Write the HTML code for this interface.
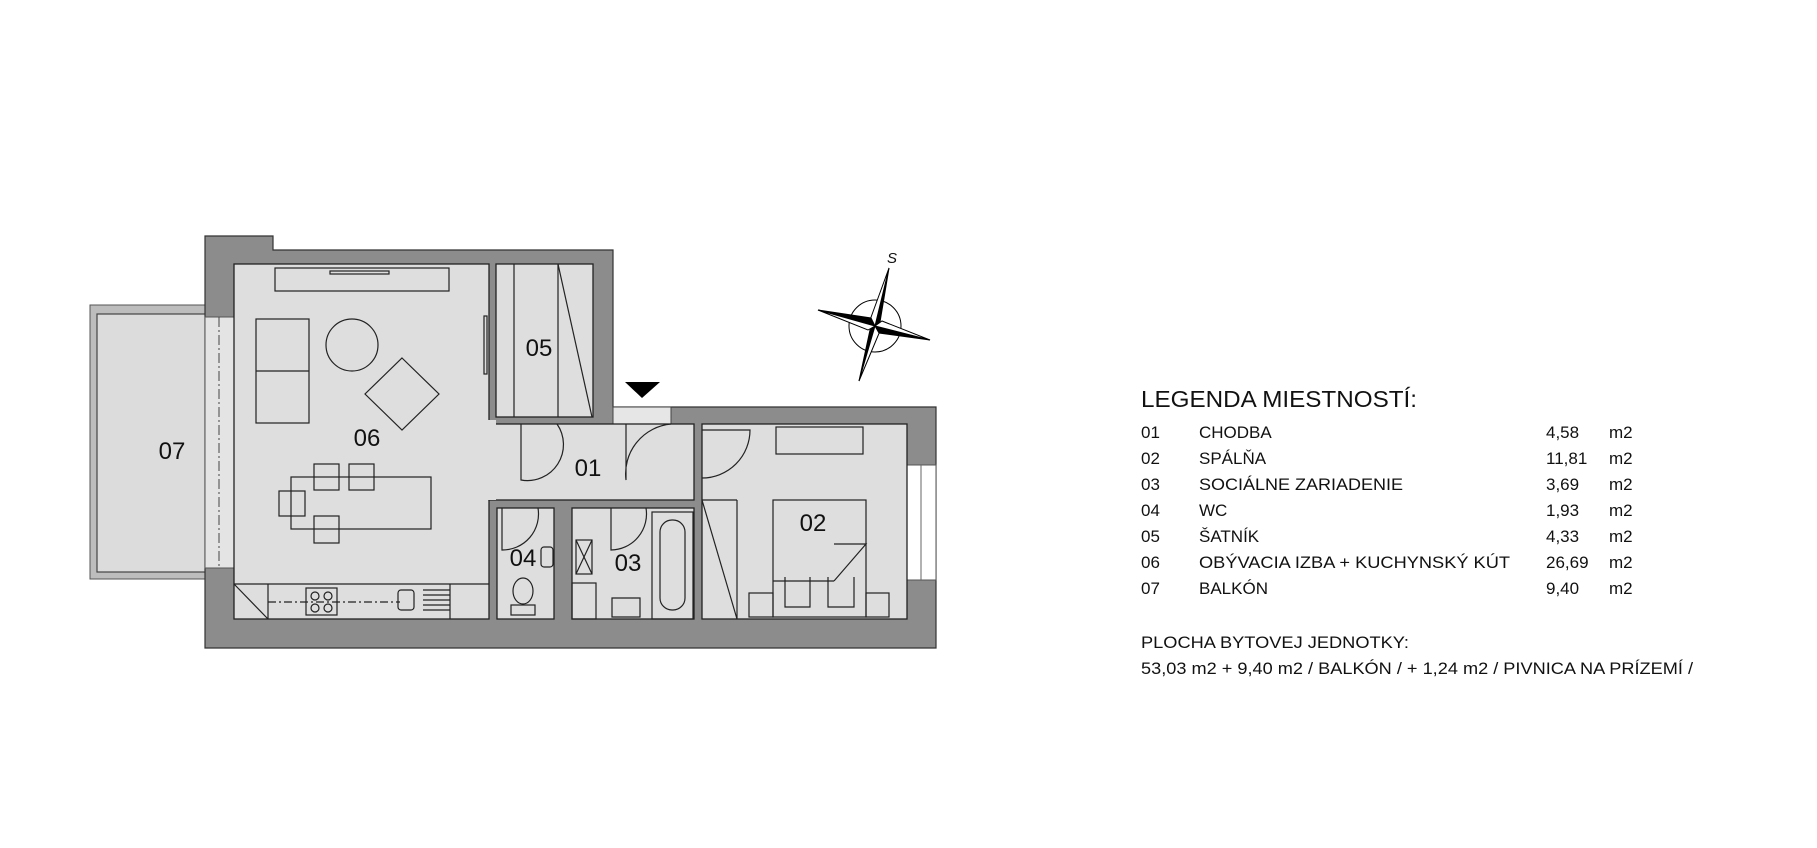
<!DOCTYPE html>
<html><head><meta charset="utf-8"><style>
html,body{margin:0;padding:0;background:#fff;}
svg{display:block;}
text{font-family:"Liberation Sans",sans-serif;fill:#111;}
</style></head><body>
<svg width="1817" height="848" viewBox="0 0 1817 848" xmlns="http://www.w3.org/2000/svg">
<rect width="1817" height="848" fill="#fff"/>
<!-- balcony -->
<rect x="90" y="305" width="117" height="274" fill="#bdbdbd" stroke="#555" stroke-width="1"/>
<rect x="97" y="314" width="112" height="258" fill="#dcdcdc" stroke="#444" stroke-width="1.2"/>
<!-- outer walls -->
<path d="M205,236 H273 V250 H613 V407 H671 V407 H936 V648 H205 Z" fill="#8c8c8c" stroke="#333" stroke-width="1.2"/>
<!-- entrance gap -->
<rect x="613" y="407" width="58" height="17" fill="#e6e6e6" stroke="#444" stroke-width="1"/>
<!-- window openings -->
<rect x="205" y="317" width="30" height="251" fill="#e4e4e4" stroke="#555" stroke-width="1"/>
<line x1="219" y1="317" x2="219" y2="568" stroke="#444" stroke-width="1" stroke-dasharray="10,3,2,3"/>
<rect x="907" y="465" width="29" height="115" fill="#fff" stroke="#555" stroke-width="1"/>
<line x1="921" y1="465" x2="921" y2="580" stroke="#666" stroke-width="1"/>
<!-- rooms -->
<g fill="#dedede" stroke="#222" stroke-width="1.3">
<rect x="234" y="264" width="255" height="355"/>
<rect x="496" y="264" width="97" height="153"/>
<rect x="489" y="424" width="205" height="76"/>
<rect x="497" y="508" width="57" height="111"/>
<rect x="572" y="508" width="122" height="111"/>
<rect x="702" y="424" width="205" height="195"/>
</g>
<rect x="486" y="420" width="10" height="80" fill="#dedede"/>
<rect x="234" y="264" width="255" height="355" fill="none" stroke="none"/>
<!-- 06 furniture -->
<g fill="none" stroke="#222" stroke-width="1.2">
<rect x="275" y="268" width="174" height="23"/>
<rect x="330" y="271" width="59" height="3"/>
<rect x="256" y="319" width="53" height="104"/><line x1="256" y1="371" x2="309" y2="371"/>
<circle cx="352" cy="345" r="26"/>
<path d="M402,358 L439,394 L402,430 L365,394 Z"/>
<rect x="291" y="477" width="140" height="52"/>
<rect x="314" y="464" width="25" height="26"/><rect x="349" y="464" width="25" height="26"/>
<rect x="279" y="491" width="26" height="25"/><rect x="314" y="516" width="25" height="27"/>
<rect x="484" y="316" width="3" height="58"/>
<line x1="234" y1="584" x2="489" y2="584"/>
<line x1="234" y1="584" x2="268" y2="619"/><line x1="268" y1="584" x2="268" y2="619"/>
<rect x="306" y="588" width="31" height="27"/>
<circle cx="315" cy="596" r="4"/><circle cx="328" cy="596" r="4"/><circle cx="315" cy="608" r="4"/><circle cx="328" cy="608" r="4"/>
<line x1="268" y1="602" x2="400" y2="602" stroke-dasharray="8,3,2,3"/>
<rect x="398" y="590" width="16" height="20" rx="3"/>
<line x1="423" y1="590" x2="450" y2="590"/><line x1="423" y1="595" x2="450" y2="595"/><line x1="423" y1="600" x2="450" y2="600"/><line x1="423" y1="605" x2="450" y2="605"/><line x1="423" y1="610" x2="450" y2="610"/>
<line x1="450" y1="584" x2="450" y2="619"/>
<!-- 05 -->
<line x1="514" y1="264" x2="514" y2="417"/><line x1="558" y1="264" x2="558" y2="417"/><line x1="558" y1="264" x2="592" y2="417"/>
<!-- doors -->
<path d="M521,424 V480 A36,36 0 0 0 557,424"/>
<path d="M626,424 V480 A50,50 0 0 1 671,424"/>
<path d="M702,430 H750 A48,48 0 0 1 702,478"/>
<path d="M502,508 V550 A36,36 0 0 0 538,508"/>
<path d="M611,508 V550 A36,36 0 0 0 646,508"/>
<!-- 03/04 fixtures -->
<rect x="576" y="540" width="16" height="34"/><line x1="576" y1="540" x2="592" y2="574"/><line x1="592" y1="540" x2="576" y2="574"/>
<rect x="572" y="583" width="24" height="36"/>
<path d="M612,598 H640 V617 H612 Z"/>
<rect x="652" y="512" width="41" height="107"/>
<rect x="660" y="520" width="25" height="90" rx="12"/>
<rect x="541" y="547" width="12" height="20" rx="3"/>
<ellipse cx="523" cy="591" rx="10" ry="13"/>
<rect x="511" y="605" width="24" height="10"/>
<!-- 02 -->
<rect x="776" y="427" width="87" height="27"/>
<line x1="737" y1="500" x2="737" y2="619"/><line x1="702" y1="500" x2="737" y2="500"/><line x1="702" y1="500" x2="737" y2="619"/>
<rect x="773" y="500" width="93" height="117"/>
<path d="M834,544 H866 L834,581"/><line x1="773" y1="581" x2="834" y2="581"/>
<rect x="749" y="593" width="24" height="24"/><rect x="866" y="593" width="23" height="24"/>
<path d="M785,577 V607 H810 V577"/><path d="M828,577 V607 H854 V577"/>
</g>
<!-- entrance triangle -->
<path d="M625,382 H660 L642,398 Z" fill="#000"/>
<!-- compass -->
<g stroke="#000" stroke-width="1">
<circle cx="875" cy="326" r="26" fill="none"/>
<path d="M889,268 L880,322 L875,326 Z" fill="#000"/>
<path d="M889,268 L875,326 L870,320 Z" fill="#fff"/>
<path d="M859,381 L870,330 L875,326 Z" fill="#000"/>
<path d="M859,381 L875,326 L880,331 Z" fill="#fff"/>
<path d="M818,310 L871,318 L875,326 Z" fill="#000"/>
<path d="M930,340 L879,333 L875,326 Z" fill="#000"/>
<path d="M818,310 L875,326 L868,330 Z" fill="#fff"/>
<path d="M930,340 L875,326 L882,321 Z" fill="#fff"/>
</g>
<text x="892" y="263" font-size="15" font-style="italic" text-anchor="middle">S</text>
<!-- room labels -->
<g font-size="24" text-anchor="middle">
<text x="367" y="446">06</text><text x="172" y="459">07</text><text x="539" y="356">05</text>
<text x="588" y="476">01</text><text x="813" y="531">02</text><text x="628" y="571">03</text><text x="523" y="566">04</text>
</g>
<!-- legend -->
<text x="1141" y="407" font-size="23" textLength="276" lengthAdjust="spacingAndGlyphs">LEGENDA MIESTNOSTÍ:</text>
<g font-size="17">
<text x="1141" y="438">01</text><text x="1199" y="438">CHODBA</text><text x="1546" y="438">4,58</text><text x="1609" y="438">m2</text>
<text x="1141" y="464">02</text><text x="1199" y="464">SPÁLŇA</text><text x="1546" y="464">11,81</text><text x="1609" y="464">m2</text>
<text x="1141" y="490">03</text><text x="1199" y="490" textLength="204" lengthAdjust="spacingAndGlyphs">SOCIÁLNE ZARIADENIE</text><text x="1546" y="490">3,69</text><text x="1609" y="490">m2</text>
<text x="1141" y="516">04</text><text x="1199" y="516">WC</text><text x="1546" y="516">1,93</text><text x="1609" y="516">m2</text>
<text x="1141" y="542">05</text><text x="1199" y="542">ŠATNÍK</text><text x="1546" y="542">4,33</text><text x="1609" y="542">m2</text>
<text x="1141" y="568">06</text><text x="1199" y="568" textLength="311" lengthAdjust="spacingAndGlyphs">OBÝVACIA IZBA + KUCHYNSKÝ KÚT</text><text x="1546" y="568">26,69</text><text x="1609" y="568">m2</text>
<text x="1141" y="594">07</text><text x="1199" y="594">BALKÓN</text><text x="1546" y="594">9,40</text><text x="1609" y="594">m2</text>
<text x="1141" y="648" textLength="268" lengthAdjust="spacingAndGlyphs">PLOCHA BYTOVEJ JEDNOTKY:</text>
<text x="1141" y="674" textLength="552" lengthAdjust="spacingAndGlyphs">53,03 m2 + 9,40 m2 / BALKÓN / + 1,24 m2 / PIVNICA NA PRÍZEMÍ /</text>
</g>
</svg>
</body></html>
